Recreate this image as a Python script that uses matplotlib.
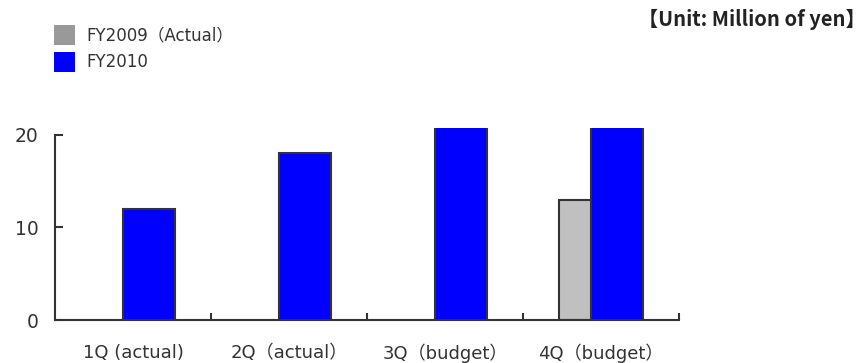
import matplotlib

matplotlib.use("Agg")

import matplotlib.pyplot as plt
import numpy as np
from matplotlib.patches import Patch

QUARTERS = ["1Q (actual)", "2Q（actual）", "3Q（budget）", "4Q（budget）"]
FY2009 = [np.nan, np.nan, np.nan, 13.0]
FY2010 = [12.0, 18.0, 22.0, 22.0]
SERIES_LABELS = ["FY2009（Actual）", "FY2010"]

INK = "#333333"
GRAY_BAR = "#c0c0c0"
GRAY_KEY = "#999999"
BLUE = "#0000ff"

plt.rcParams["font.family"] = ["DejaVu Sans", "Noto Sans CJK JP"]

fig = plt.figure(figsize=(8.67, 3.63), dpi=100)
ax = fig.add_axes([55 / 867, 43 / 363, 624 / 867, 192 / 363])

x = np.arange(len(QUARTERS))
width = 0.333
ax.bar(x - 0.27, FY2009, width, align="edge", color=GRAY_BAR,
       edgecolor=INK, linewidth=1.5, zorder=2)
ax.bar(x + 0.1, FY2010, width, color=BLUE,
       edgecolor=INK, linewidth=1.5, zorder=3)

ax.set_xlim(-0.5, len(QUARTERS) - 0.5)
ax.set_ylim(0, 20.75)

for side in ("top", "right"):
    ax.spines[side].set_visible(False)
for side in ("left", "bottom"):
    ax.spines[side].set_color(INK)
    ax.spines[side].set_linewidth(1.5)
ax.spines["left"].set_bounds(0, 20)

ax.set_yticks([0, 10, 20])
ax.tick_params(axis="y", direction="in", length=6, width=1.5, color=INK,
               labelsize=13.5, labelcolor=INK, pad=12)

# labels sit at the centres, the tick marks on the boundaries
ax.set_xticks(x)
ax.set_xticklabels(QUARTERS)
ax.tick_params(axis="x", which="major", length=0, labelsize=13,
               labelcolor=INK, pad=17)
ax.set_xticks(x + 0.5, minor=True)
ax.tick_params(axis="x", which="minor", direction="in", length=5,
               width=1.5, color=INK)

handles = [Patch(facecolor=GRAY_KEY), Patch(facecolor=BLUE)]
fig.legend(handles, SERIES_LABELS, loc="upper left",
           bbox_to_anchor=(54 / 867, 1 - 25 / 363), frameon=False,
           fontsize=12, handlelength=1.25, handleheight=1.45,
           labelspacing=0.42, handletextpad=0.7, borderpad=0,
           borderaxespad=0, labelcolor=INK)

fig.text(866 / 867, 1 - 19 / 363, "【Unit: Million of yen】", ha="right",
         va="center", fontsize=14.5, fontweight="bold", color="#222222",
         family=["Noto Sans CJK JP"])

fig.savefig("out.png", dpi=100)
